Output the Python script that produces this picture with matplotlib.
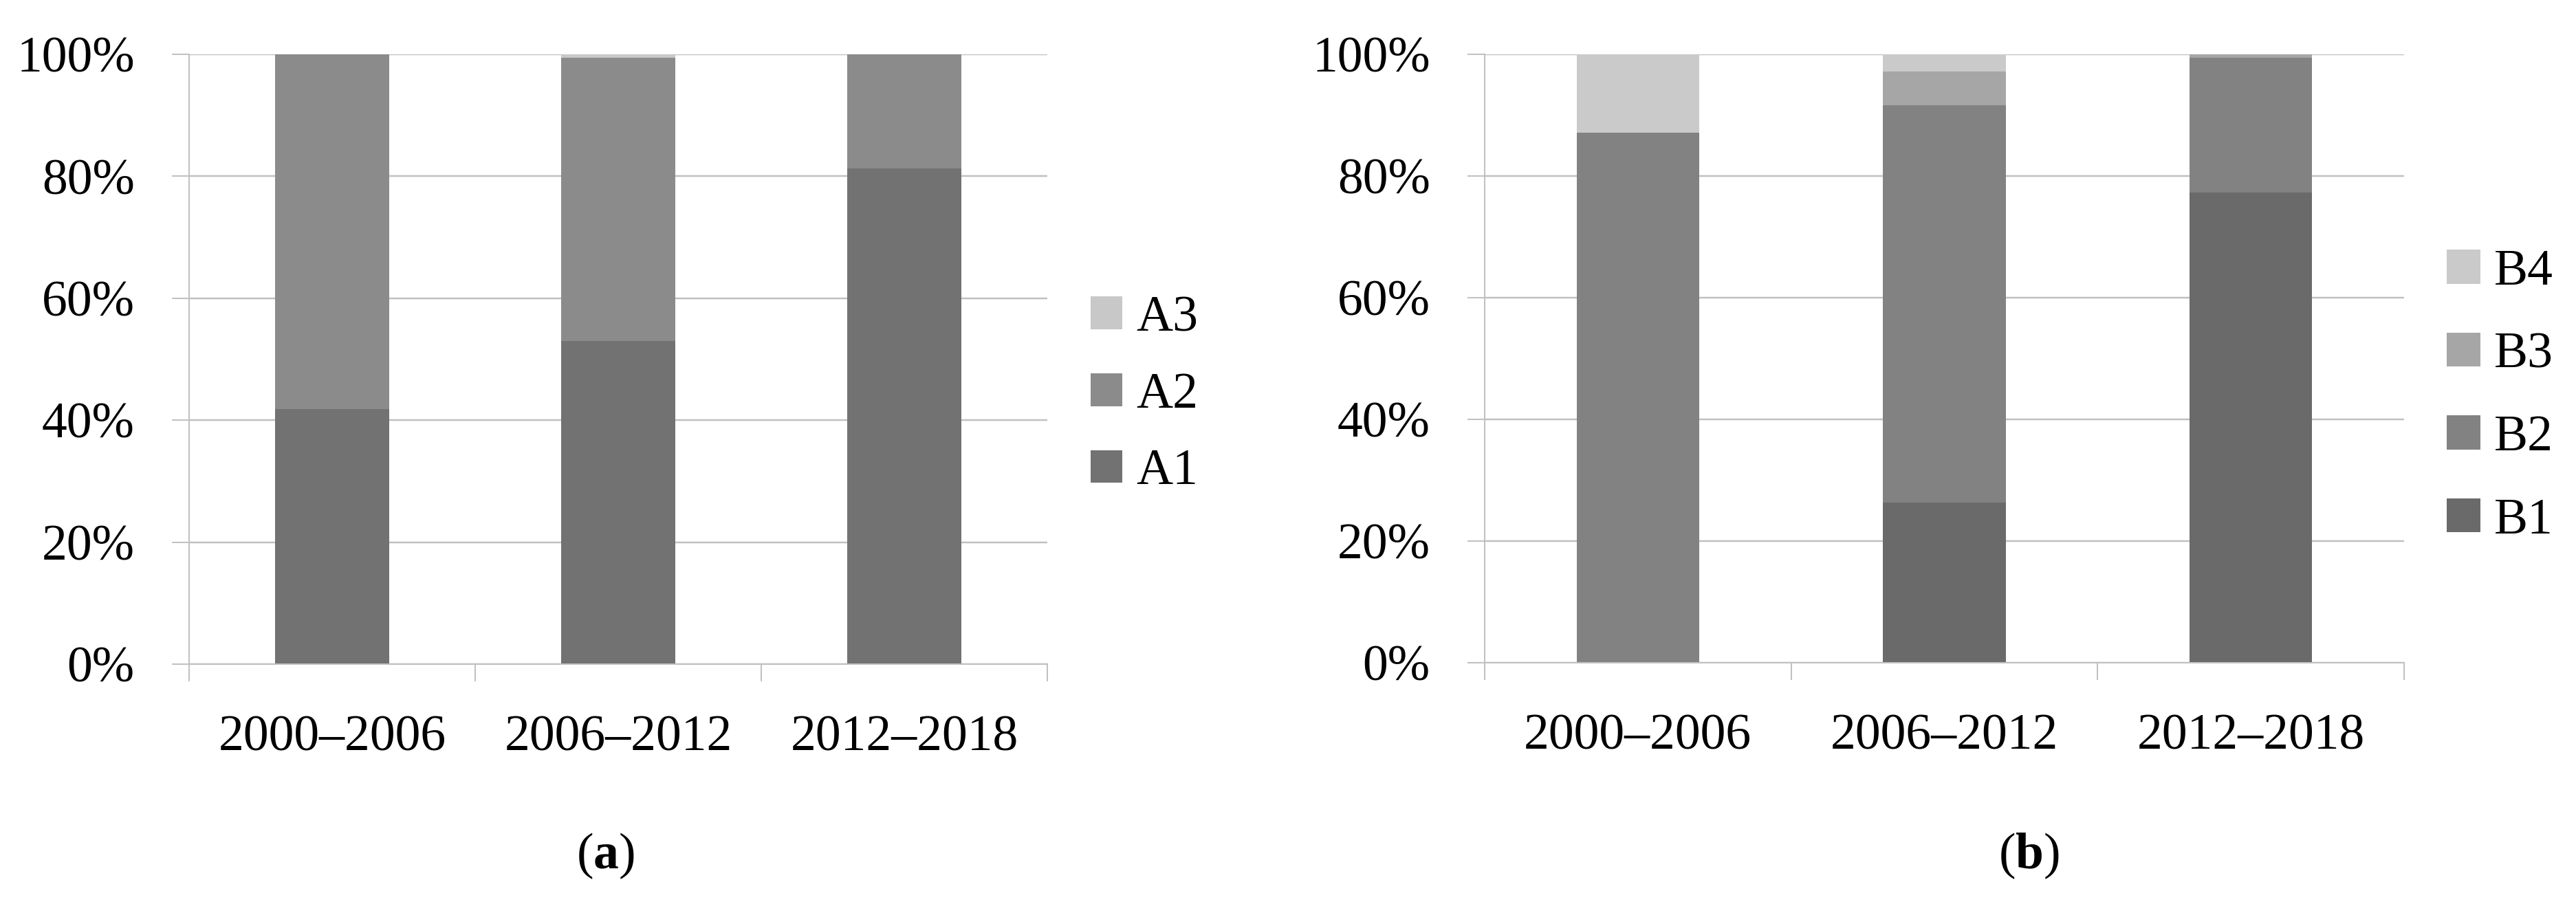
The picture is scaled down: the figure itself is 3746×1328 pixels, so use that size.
import matplotlib
matplotlib.use("Agg")
import matplotlib.pyplot as plt
import numpy as np
from matplotlib.patches import Patch
from matplotlib.ticker import FuncFormatter, FixedLocator

plt.rcParams['font.family'] = ['Liberation Serif', 'DejaVu Serif']
plt.rcParams['mathtext.fontset'] = 'custom'
plt.rcParams['mathtext.rm'] = 'Liberation Serif'
plt.rcParams['mathtext.bf'] = 'Liberation Serif:bold'

categories = ['2000\u20132006', '2006\u20132012', '2012\u20132018']

A_labels = ['A1', 'A2', 'A3']
A1 = [41.8, 53.0, 81.3]
A2 = [58.2, 46.4, 18.7]
A3 = [0.0, 0.6, 0.0]
A_colors = ['#727272', '#8b8b8b', '#c8c8c8']

B_labels = ['B1', 'B2', 'B3', 'B4']
B1 = [0.0, 26.3, 77.3]
B2 = [87.1, 65.3, 22.1]
B3 = [0.0, 5.6, 0.6]
B4 = [12.9, 2.8, 0.0]
B_colors = ['#6a6a6a', '#828282', '#a6a6a6', '#cacaca']

W, H = 3746, 1328
DPI = 100
fig = plt.figure(figsize=(W / DPI, H / DPI), dpi=DPI)

FS = 53
GRID = '#c0c0c0'
px = 72 / DPI  # points per pixel


def style_axes(ax):
    x = np.arange(len(categories))
    ax.set_xlim(-0.5, len(categories) - 0.5)
    ax.set_ylim(0, 100)
    ax.set_yticks(np.arange(0, 101, 20))
    ax.yaxis.set_major_formatter(FuncFormatter(lambda v, p: f'{int(v)}%'))
    ax.set_xticks(x)
    ax.set_xticklabels(categories)
    ax.xaxis.set_minor_locator(FixedLocator(np.arange(-0.5, len(categories), 1.0)))
    ax.tick_params(axis='x', which='major', length=0, pad=53, labelsize=FS)
    ax.tick_params(axis='x', which='minor', length=25 * px, width=2 * px, color=GRID, direction='out')
    ax.tick_params(axis='y', which='major', length=25 * px, width=2 * px, color=GRID,
                   pad=39, labelsize=FS, direction='out')
    ax.grid(axis='y', color=GRID, linewidth=2.5 * px, zorder=0)
    ax.set_axisbelow(True)
    for s in ['top', 'right']:
        ax.spines[s].set_visible(False)
    for s in ['left', 'bottom']:
        ax.spines[s].set_color(GRID)
        ax.spines[s].set_linewidth(2 * px)


def stacked(ax, series, colors):
    x = np.arange(len(categories))
    bottom = np.zeros(len(categories))
    for vals, c in zip(series, colors):
        ax.bar(x, vals, width=0.4, bottom=bottom, color=c, zorder=2, linewidth=0)
        bottom += np.array(vals)


# Panel (a)
axA = fig.add_axes([275 / W, (H - 966) / H, 1248 / W, 887 / H])
style_axes(axA)
stacked(axA, [A1, A2, A3], A_colors)
handlesA = [Patch(facecolor=c, label=l) for c, l in zip(A_colors, A_labels)][::-1]
fig.legend(handles=handlesA, loc='center left', bbox_to_anchor=(1586 / W, (H - 575) / H),
           frameon=False, fontsize=FS, handlelength=0.62, handleheight=0.62,
           handletextpad=0.28, labelspacing=0.60, borderpad=0, borderaxespad=0)

# Panel (b)
axB = fig.add_axes([2159 / W, (H - 964) / H, 1337 / W, 885 / H])
style_axes(axB)
stacked(axB, [B1, B2, B3, B4], B_colors)
handlesB = [Patch(facecolor=c, label=l) for c, l in zip(B_colors, B_labels)][::-1]
fig.legend(handles=handlesB, loc='center left', bbox_to_anchor=(3558 / W, (H - 577) / H),
           frameon=False, fontsize=FS, handlelength=0.66, handleheight=0.66,
           handletextpad=0.28, labelspacing=0.72, borderpad=0, borderaxespad=0)

fig.text(880 / W, (H - 1245) / H, r'($\mathbf{a}$)', ha='center', va='center', fontsize=FS)
fig.text(2950 / W, (H - 1245) / H, r'($\mathbf{b}$)', ha='center', va='center', fontsize=FS)

fig.savefig('out.png', dpi=DPI, facecolor='white')
